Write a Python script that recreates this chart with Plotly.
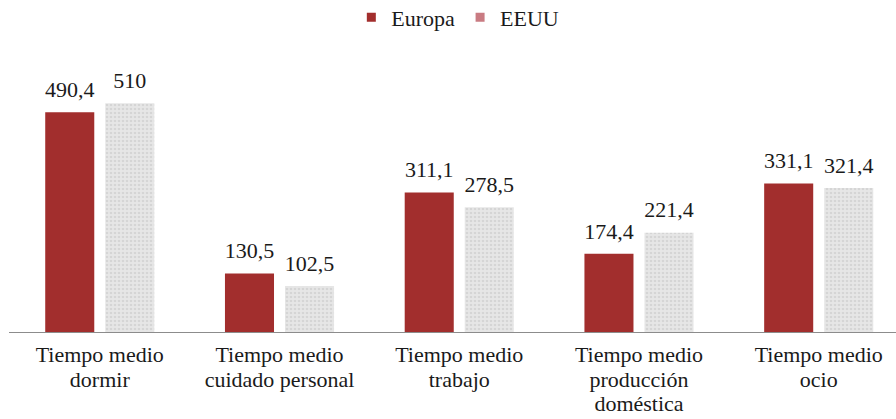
import plotly.graph_objects as go

categories = ["Tiempo medio dormir", "Tiempo medio cuidado personal", "Tiempo medio trabajo",
              "Tiempo medio producción doméstica", "Tiempo medio ocio"]
tick_lines = [["Tiempo medio", "dormir"], ["Tiempo medio", "cuidado personal"], ["Tiempo medio", "trabajo"],
              ["Tiempo medio", "producción", "doméstica"], ["Tiempo medio", "ocio"]]
europa = [490.4, 130.5, 311.1, 174.4, 331.1]
eeuu = [510, 102.5, 278.5, 221.4, 321.4]
europa_labels = ["490,4", "130,5", "311,1", "174,4", "331,1"]
eeuu_labels = ["510", "102,5", "278,5", "221,4", "321,4"]

FONT = "Tinos, Liberation Serif, Times New Roman, Noto Serif, DejaVu Serif, serif"
TXT = "#1a1a1a"

ticktext = ["<br>".join("<span style='font-size:22px'>%s</span>" % ln for ln in lines) for lines in tick_lines]

fig = go.Figure()
fig.add_trace(go.Bar(
    x=categories, y=europa, name="Europa", showlegend=False, offsetgroup="a",
    marker=dict(color="#a22e2d", line=dict(width=0)), hoverinfo="skip",
))
fig.add_trace(go.Bar(
    x=categories, y=eeuu, name="EEUU", showlegend=False, offsetgroup="b",
    marker=dict(color="#e4e4e4", line=dict(width=0),
                pattern=dict(shape=".", bgcolor="#e6e6e6", fgcolor="#c4c4c4", size=4, solidity=0.35)),
    hoverinfo="skip",
))
# value labels
fig.add_trace(go.Scatter(
    x=categories, y=europa, mode="markers+text", offsetgroup="a", showlegend=False,
    marker=dict(size=14, color="rgba(0,0,0,0)"), text=europa_labels, textposition="top center",
    textfont=dict(family=FONT, size=22, color=TXT), cliponaxis=False, hoverinfo="skip",
))
fig.add_trace(go.Scatter(
    x=categories, y=eeuu, mode="markers+text", offsetgroup="b", showlegend=False,
    marker=dict(size=14, color="rgba(0,0,0,0)"), text=eeuu_labels, textposition="top center",
    textfont=dict(family=FONT, size=22, color=TXT), cliponaxis=False, hoverinfo="skip",
))
# legend entries
fig.add_trace(go.Scatter(x=[None], y=[None], mode="markers", name="Europa", offsetgroup="a",
                         marker=dict(symbol="square", size=9, color="#a22e2d")))
fig.add_trace(go.Scatter(x=[None], y=[None], mode="markers", name="EEUU", offsetgroup="b",
                         marker=dict(symbol="square", size=9, color="#c97b82")))

fig.update_layout(
    width=896, height=419,
    margin=dict(l=9, r=0, t=63, b=87, autoexpand=False),
    paper_bgcolor="white", plot_bgcolor="white",
    barmode="group", bargap=0.332, bargroupgap=0.183,
    scattermode="group", scattergap=0.332,
    font=dict(family=FONT, size=20, color=TXT),
    legend=dict(orientation="h", x=0.506, xanchor="center", y=1.169, yanchor="middle",
                font=dict(family=FONT, size=22, color=TXT), itemwidth=30),
    showlegend=True,
)
fig.update_xaxes(range=[-0.505, 4.43], showline=True, linecolor="#8c8c8c", linewidth=1,
                 tickmode="array", tickvals=categories, ticktext=ticktext,
                 ticks="outside", ticklen=6, tickcolor="rgba(0,0,0,0)",
                 tickfont=dict(family=FONT, size=19, color=TXT), showgrid=False)
fig.update_yaxes(range=[0, 600], visible=False, showgrid=False)

fig.write_html("out.html", config={"displayModeBar": False},
               post_script="document.body.style.margin='0';document.body.style.overflow='hidden';")
